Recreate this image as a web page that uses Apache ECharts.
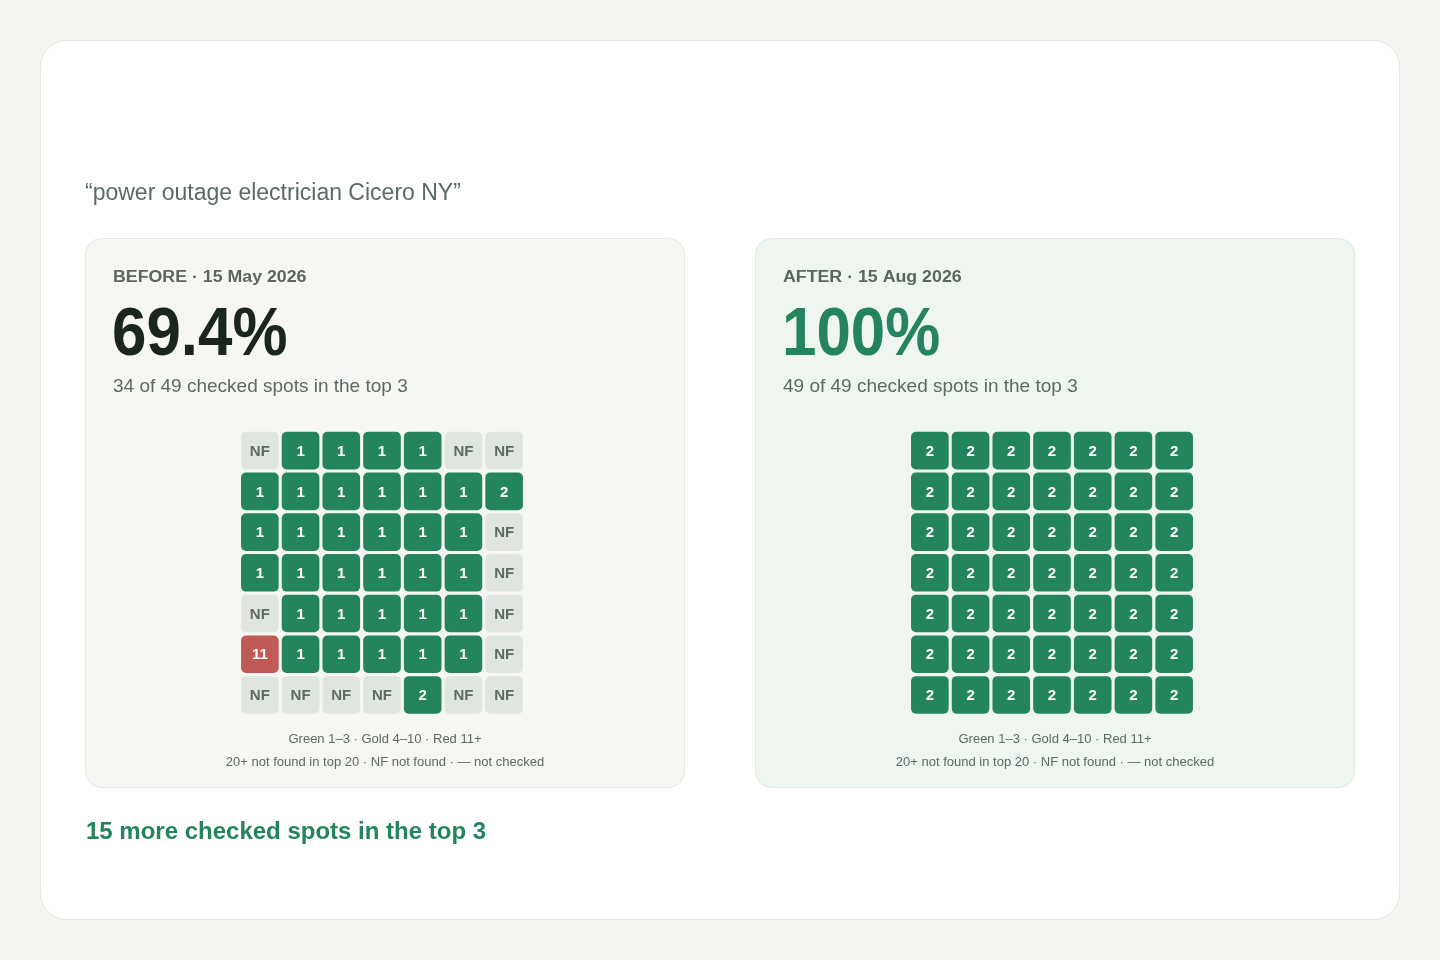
<!DOCTYPE html>
<html><head><meta charset="utf-8">
<script src="https://cdn.jsdelivr.net/npm/echarts@6/dist/echarts.min.js"></script>
<style>html,body{margin:0;padding:0;background:#f4f4f0}#c{width:1440px;height:960px}</style>
</head><body><div id="c"></div>
<script>
const queryTitle = '\u201cpower outage electrician Cicero NY\u201d';
const beforeHeader = 'BEFORE \u00b7 15 May 2026';
const afterHeader = 'AFTER \u00b7 15 Aug 2026';
const beforeShare = '69.4%';
const afterShare = '100%';
const beforeSub = '34 of 49 checked spots in the top 3';
const afterSub = '49 of 49 checked spots in the top 3';
const legendLine1 = 'Green 1\u20133 \u00b7 Gold 4\u201310 \u00b7 Red 11+';
const legendLine2 = '20+ not found in top 20 \u00b7 NF not found \u00b7 \u2014 not checked';
const footerText = '15 more checked spots in the top 3';
const gridCols = ['c1','c2','c3','c4','c5','c6','c7'];
const gridRows = ['r1','r2','r3','r4','r5','r6','r7'];
const beforeRanks = [
  ['NF',1,1,1,1,'NF','NF'],
  [1,1,1,1,1,1,2],
  [1,1,1,1,1,1,'NF'],
  [1,1,1,1,1,1,'NF'],
  ['NF',1,1,1,1,1,'NF'],
  [11,1,1,1,1,1,'NF'],
  ['NF','NF','NF','NF',2,'NF','NF']
];
const afterRanks = [
  [2,2,2,2,2,2,2],
  [2,2,2,2,2,2,2],
  [2,2,2,2,2,2,2],
  [2,2,2,2,2,2,2],
  [2,2,2,2,2,2,2],
  [2,2,2,2,2,2,2],
  [2,2,2,2,2,2,2]
];

const GREEN = '#24845c', GOLD = '#c9a13a', RED = '#c05a55', NFBG = '#dfe5df', NFTXT = '#5f6a63';
const FONT = '"Liberation Sans", Arial, sans-serif';

function toData(ranks){
  const out = [];
  ranks.forEach((row, r) => row.forEach((v, c) => out.push([gridCols[c], gridRows[r], String(v)])));
  return out;
}
function cellColor(v){
  if (v === 'NF' || v === '20+' || v === '\u2014') return NFBG;
  const n = Number(v);
  if (n <= 3) return GREEN;
  if (n <= 10) return GOLD;
  return RED;
}
function makeRender(ranks){
  const data = toData(ranks);
  return function(params, api){
    const d = data[params.dataIndex];
    const p = api.coord([api.value(0), api.value(1)]);
    const s = api.size([1, 1]);
    const w = s[0] - 3.1, h = s[1] - 3.1;
    const lab = d[2];
    const bg = cellColor(lab);
    return {
      type: 'group',
      children: [
        {type: 'rect', shape: {x: p[0] - w/2, y: p[1] - h/2, width: w, height: h, r: 5}, style: {fill: bg}},
        {type: 'text', x: p[0], y: p[1] + 1, style: {text: lab, fill: bg === NFBG ? NFTXT : '#ffffff', font: 'bold 15px ' + FONT, align: 'center', verticalAlign: 'middle'}}
      ]
    };
  };
}

const chart = echarts.init(document.getElementById('c'), null, {renderer: 'canvas'});
const G = 285;
function axes(idx){
  return {
    x: {type: 'category', gridIndex: idx, data: gridCols, show: false},
    y: {type: 'category', gridIndex: idx, data: gridRows, inverse: true, show: false}
  };
}
const a0 = axes(0), a1 = axes(1);

function panelTexts(ox, header, share, shareColor, sub){
  return [
    {type: 'text', left: ox + 28, top: 270, style: {text: header, font: 'bold 16px ' + FONT, fill: '#5c665f'}, scaleX: 1.11},
    {type: 'text', left: ox + 27, top: 302, style: {text: share, font: 'bold 68px ' + FONT, fill: shareColor}, scaleX: 0.91},
    {type: 'text', left: ox + 28, top: 377, style: {text: sub, font: '19px ' + FONT, fill: '#5d6a63'}},
    {type: 'text', x: ox + 300, y: 739, style: {text: legendLine1, font: '13px ' + FONT, fill: '#5d6a63', align: 'center', verticalAlign: 'middle'}},
    {type: 'text', x: ox + 300, y: 762, style: {text: legendLine2, font: '13px ' + FONT, fill: '#5d6a63', align: 'center', verticalAlign: 'middle'}}
  ];
}

chart.setOption({
  backgroundColor: '#f4f4f0',
  animation: false,
  grid: [
    {left: 239.5, top: 430.3, width: G, height: G},
    {left: 909.5, top: 430.3, width: G, height: G}
  ],
  xAxis: [a0.x, a1.x],
  yAxis: [a0.y, a1.y],
  graphic: {elements: [
    {type: 'rect', shape: {x: 40.5, y: 40.5, width: 1359, height: 879, r: 26}, style: {fill: '#ffffff', stroke: '#e6e6e1', lineWidth: 1}, z: -10},
    {type: 'rect', shape: {x: 85.5, y: 238.5, width: 599, height: 549, r: 16}, style: {fill: '#f6f6f3', stroke: '#e6e8e3', lineWidth: 1}, z: -9},
    {type: 'rect', shape: {x: 755.5, y: 238.5, width: 599, height: 549, r: 16}, style: {fill: '#eff5ef', stroke: '#dfe9e1', lineWidth: 1}, z: -9},
    {type: 'text', left: 85, top: 182, style: {text: queryTitle, font: '23px ' + FONT, fill: '#5b6a63'}},
    ...panelTexts(85, beforeHeader, beforeShare, '#1a2520', beforeSub),
    ...panelTexts(755, afterHeader, afterShare, '#24845c', afterSub),
    {type: 'text', left: 86, top: 820, style: {text: footerText, font: 'bold 24px ' + FONT, fill: '#24845c'}}
  ]},
  series: [
    {type: 'custom', xAxisIndex: 0, yAxisIndex: 0, data: toData(beforeRanks), renderItem: makeRender(beforeRanks), silent: true},
    {type: 'custom', xAxisIndex: 1, yAxisIndex: 1, data: toData(afterRanks), renderItem: makeRender(afterRanks), silent: true}
  ]
});
</script>
</body></html>
